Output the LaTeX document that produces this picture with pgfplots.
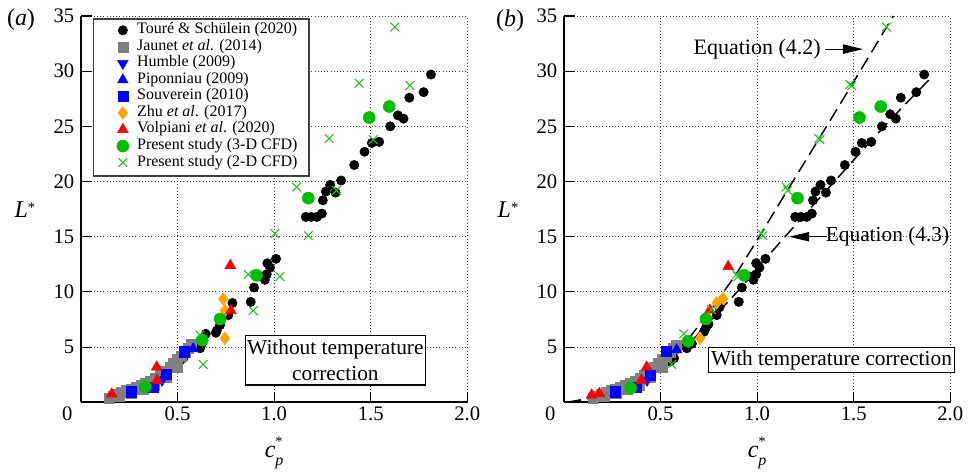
\documentclass[border=0pt]{standalone}
\usepackage{pgfplots}
\pgfplotsset{compat=1.18}
\usepackage{fontspec}
\setmainfont{Liberation Serif}
\usetikzlibrary{arrows.meta}
\definecolor{cgray}{RGB}{128,128,128}
\definecolor{cblue}{RGB}{0,0,255}
\definecolor{corange}{RGB}{255,165,0}
\definecolor{cred}{RGB}{255,0,0}
\definecolor{cgreen}{RGB}{0,190,0}
\definecolor{cxgreen}{RGB}{40,190,40}

\newcommand{\Lstar}{\textit{L}\raisebox{0.45ex}{\fontsize{11}{11}\selectfont *}}
\newcommand{\cpstar}{\textit{c}\rlap{\raisebox{1.0ex}{\fontsize{11}{11}\selectfont *}}\raisebox{-0.7ex}{\fontsize{12}{12}\selectfont\textit{p}}}

\pgfplotsset{
 panel/.style={
  scale only axis, width=289.7pt, height=289.7pt,
  xmin=0, xmax=2, ymin=0, ymax=35,
  axis x line*=bottom, axis y line*=left,
  axis line style={-, line width=1.5pt},
  xtick={0,0.5,1,1.5,2},
  xticklabels={\makebox[0pt][r]{0\hspace{6.5pt}},0.5,1.0,1.5,2.0},
  ytick={5,10,15,20,25,30,35},
  tick align=inside, major tick length=8pt,
  tick style={black, line width=0.8pt},
  grid=major, grid style={dotted, black!75, line width=0.7pt},
  tick label style={font=\fontsize{15.5}{18}\selectfont},
  yticklabel style={xshift=-1.5pt},
  /pgf/number format/assume math mode=true,
  clip=false,
 },
 pblack/.style={only marks, mark=*, mark size=3.5pt, black, line width=0.4pt},
 pgray/.style={only marks, mark=square*, mark size=3.8pt, cgray, line width=0.4pt},
 phumble/.style={only marks, mark=triangle*, mark size=4.6pt, cblue, mark options={rotate=180}, line width=0.4pt},
 ppipo/.style={only marks, mark=triangle*, mark size=4.6pt, cblue, line width=0.4pt},
 psouv/.style={only marks, mark=square*, mark size=3.8pt, cblue, line width=0.4pt},
 pzhu/.style={only marks, mark=diamond*, mark size=4.8pt, corange, line width=0.4pt},
 pvolp/.style={only marks, mark=triangle*, mark size=4.6pt, cred, line width=0.4pt},
 pthree/.style={only marks, mark=*, mark size=4.5pt, cgreen, line width=0.4pt},
 ptwo/.style={only marks, mark=x, mark size=4.6pt, cxgreen, line width=0.8pt},
}

\begin{document}
\begin{tikzpicture}
\useasboundingbox (0,0) rectangle (726.75pt,354pt);

% ---------------- panel (a)
\begin{axis}[panel, at={(60.75pt,52.28pt)}, anchor=south west,
  legend style={at={(axis cs:0.1843,34.48)}, anchor=north west,
    draw=none, fill=none,
    inner xsep=0pt, inner ysep=0pt,
    font=\fontsize{12}{12}\selectfont,
    nodes={inner xsep=3pt, inner ysep=0pt, text height=8.8pt, text depth=3.6pt},
    /tikz/every odd column/.append style={column sep=3.2pt},
    row sep=0pt},
  legend cell align=left,
]
\draw[draw=black!75, line width=1.2pt, fill=white] (axis cs:0.0637,34.73) rectangle (axis cs:1.179,20.50);
\addplot[pblack] coordinates {
(1.812,29.7) (1.774,28.1) (1.700,27.6) (1.670,25.7) (1.641,26.0) (1.601,25.0)
(1.544,23.6) (1.506,23.5) (1.468,22.7) (1.415,21.5) (1.347,20.1) (1.290,19.7)
(1.318,19.0) (1.268,19.1) (1.252,18.3) (1.247,17.1) (1.221,16.8) (1.192,16.8)
(1.164,16.8) (1.010,13.0) (0.965,12.6) (0.979,12.2) (0.962,11.6) (0.952,11.1)
(0.936,11.4) (0.896,10.4) (0.879,9.1) (0.784,9.0) (0.763,7.9) (0.720,7.0)
(0.703,6.5) (0.698,6.3) (0.646,6.2) (0.625,5.3) (0.617,4.9) (0.510,3.7) (0.530,4.0)
};
\addlegendentry{Touré \& Schülein (2020)}
\addplot[pgray] coordinates {
(0.145,0.40) (0.165,0.55) (0.185,0.75) (0.210,0.90) (0.235,1.05) (0.260,1.20)
(0.285,1.35) (0.310,1.50) (0.335,1.70) (0.360,1.90) (0.385,2.15) (0.410,2.45)
(0.435,2.80) (0.460,3.15) (0.480,3.50) (0.500,3.85) (0.520,4.20) (0.540,4.55)
(0.555,4.90) (0.570,5.25) (0.200,0.55) (0.260,0.85) (0.320,1.15) (0.380,1.55)
(0.440,2.30) (0.500,3.20)
};
\addlegendentry{Jaunet \textit{et al}. (2014)}
\addplot[phumble] coordinates {(0.420,2.0)};
\addlegendentry{Humble (2009)}
\addplot[ppipo] coordinates {(0.581,4.85) (0.430,2.3)};
\addlegendentry{Piponniau (2009)}
\addplot[psouv] coordinates {(0.262,0.96) (0.374,1.35) (0.440,2.56) (0.533,4.58)};
\addlegendentry{Souverein (2010)}
\addplot[pzhu] coordinates {(0.737,9.36) (0.745,8.3) (0.745,5.8)};
\addlegendentry{Zhu \textit{et al}. (2017)}
\addplot[pvolp] coordinates {(0.773,12.4) (0.776,8.3) (0.392,3.2) (0.394,2.0) (0.159,0.75)};
\addlegendentry{Volpiani \textit{et al}. (2020)}
\addplot[pthree] coordinates {(1.596,26.8) (1.492,25.8) (1.177,18.5) (0.909,11.5) (0.720,7.55) (0.628,5.64) (0.333,1.41)};
\addlegendentry{Present study (3-D CFD)}
\addplot[ptwo] coordinates {
(1.625,34.0) (1.703,28.7) (1.440,28.9) (1.285,23.9) (1.513,23.8) (1.116,19.5)
(1.323,19.2) (1.004,15.3) (1.177,15.1) (0.866,11.6) (1.030,11.4) (0.892,8.3)
(0.616,6.1) (0.633,3.44)
};
\addlegendentry{Present study (2-D CFD)}
\node[draw=black, line width=0.8pt, fill=white, align=center, inner xsep=1.5pt, inner ysep=3pt,
  font=\fontsize{16}{19.5}\selectfont] at (axis cs:1.317,3.79) {Without temperature\\correction};
\node[font=\fontsize{18}{18}\selectfont] at (rel axis cs:-0.145,0.5) {\Lstar};
\node[font=\fontsize{18}{18}\selectfont] at (rel axis cs:0.5,-0.131) {\cpstar};
\end{axis}

% ---------------- panel (b)
\begin{axis}[panel, at={(423pt,52.28pt)}, anchor=south west]
\addplot[pblack] coordinates {
(1.865,29.7) (1.824,28.1) (1.744,27.6) (1.718,25.7) (1.689,26.1) (1.646,25.0)
(1.591,23.6) (1.542,23.5) (1.509,22.7) (1.454,21.5) (1.383,20.1) (1.328,19.7)
(1.356,19.0) (1.302,19.1) (1.289,18.3) (1.283,17.1) (1.257,16.8) (1.226,16.8)
(1.197,16.8) (1.043,13.0) (0.995,12.6) (1.012,12.2) (0.995,11.6) (0.981,11.1)
(0.964,11.4) (0.921,10.4) (0.905,9.1) (0.805,8.6) (0.791,7.9) (0.748,7.1)
(0.736,6.8) (0.725,6.4) (0.662,5.3) (0.636,4.9) (0.550,3.7) (0.570,4.0)
};
\addplot[pgray] coordinates {
(0.150,0.40) (0.172,0.55) (0.193,0.75) (0.218,0.90) (0.243,1.05) (0.268,1.20)
(0.293,1.35) (0.318,1.50) (0.343,1.70) (0.368,1.90) (0.393,2.15) (0.418,2.45)
(0.443,2.80) (0.468,3.15) (0.488,3.50) (0.508,3.85) (0.528,4.20) (0.548,4.55)
(0.565,4.90) (0.580,5.20) (0.208,0.55) (0.268,0.85) (0.328,1.15) (0.388,1.55)
(0.448,2.30) (0.508,3.20)
};
\addplot[phumble] coordinates {(0.430,2.0)};
\addplot[ppipo] coordinates {(0.583,4.75) (0.440,2.3)};
\addplot[psouv] coordinates {(0.264,0.96) (0.376,1.35) (0.445,2.47) (0.531,4.65)};
\addplot[pzhu] coordinates {(0.824,9.4) (0.790,9.0) (0.704,5.8)};
\addplot[pvolp] coordinates {(0.850,12.3) (0.755,8.36) (0.428,3.2) (0.400,2.0) (0.143,0.66) (0.183,0.8)};
\addplot[pthree] coordinates {(1.640,26.8) (1.530,25.8) (1.209,18.5) (0.933,11.5) (0.735,7.55) (0.643,5.53) (0.345,1.3)};
\addplot[ptwo] coordinates {
(1.669,34.0) (1.480,28.8) (1.490,28.7) (1.318,23.9) (1.325,23.8) (1.150,19.5)
(1.158,19.2) (1.020,15.3) (1.030,15.1) (0.893,11.6) (0.900,11.4) (0.764,8.4)
(0.620,6.2) (0.557,3.44)
};
% Equation (4.2)
\addplot[black, line width=1.1pt, dash pattern=on 10pt off 5pt] coordinates {
(0.02,0.0) (0.134,0.36) (0.25,1.0) (0.393,2.0) (0.531,3.66) (0.652,5.9)
(0.79,9.1) (0.893,11.66) (1.014,15.1) (1.16,19.3) (1.321,23.9) (1.488,28.7) (1.705,35)
};
% Equation (4.3)
\addplot[black, line width=1.1pt, dash pattern=on 10pt off 5pt] coordinates {
(0.02,0.0) (0.134,0.35) (0.25,1.0) (0.393,2.0) (0.531,3.6) (0.669,5.7)
(0.807,8.3) (0.928,10.6) (1.023,12.6) (1.152,15.15) (1.307,18.2) (1.462,21.2)
(1.60,23.9) (1.75,26.7) (1.90,29.4)
};
\node[font=\fontsize{16.5}{19}\selectfont] at (axis cs:1.0,32.0) {Equation (4.2)};
\draw[-{Triangle[length=15pt,width=7pt]}, line width=0.8pt] (axis cs:1.35,32.0) -- (axis cs:1.548,32.0);
\node[font=\fontsize{16}{19}\selectfont] at (axis cs:1.675,15.0) {Equation (4.3)};
\draw[-{Triangle[length=15pt,width=7pt]}, line width=0.8pt] (axis cs:1.355,15.0) -- (axis cs:1.166,15.0);
\node[draw=black, line width=0.8pt, fill=white, inner xsep=2pt, inner ysep=2pt,
  font=\fontsize{16}{19}\selectfont] at (axis cs:1.385,3.81) {With temperature correction};
\node[font=\fontsize{18}{18}\selectfont] at (rel axis cs:-0.145,0.5) {\Lstar};
\node[font=\fontsize{18}{18}\selectfont] at (rel axis cs:0.5,-0.131) {\cpstar};
\end{axis}

\node[font=\fontsize{18}{18}\selectfont] at (15.75pt,339pt) {(\textit{a})};
\node[font=\fontsize{18}{18}\selectfont] at (382.5pt,338.25pt) {(\textit{b})};
\end{tikzpicture}
\end{document}
